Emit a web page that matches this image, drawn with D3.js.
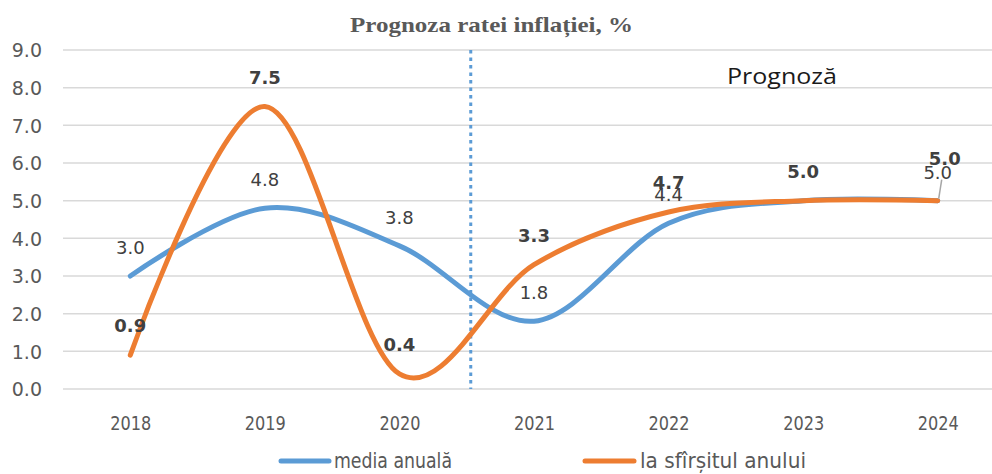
<!DOCTYPE html>
<html>
<head>
<meta charset="utf-8">
<script src="https://cdn.jsdelivr.net/npm/d3@7/dist/d3.min.js"></script>
<style>
  html, body { margin: 0; padding: 0; background: #fff; }
  svg { display: block; }
</style>
</head>
<body>
<svg id="chart" width="992" height="474"></svg>
<script>
// ---- data ----
const years = ["2018", "2019", "2020", "2021", "2022", "2023", "2024"];
const mediaAnuala = [3.0, 4.8, 3.8, 1.8, 4.4, 5.0, 5.0];
const sfarsitulAnului = [0.9, 7.5, 0.4, 3.3, 4.7, 5.0, 5.0];
const yTicks = [0, 1, 2, 3, 4, 5, 6, 7, 8, 9];
const seriesNames = ["media anuală", "la sfîrșitul anului"];
const titleText = "Prognoza ratei inflației, %";
const forecastText = "Prognoză";
const forecastAfter = "2020";

// ---- layout ----
const W = 992, H = 474;
const svg = d3.select("#chart");
const x = d3.scalePoint().domain(years).range([63, 1005]).padding(0.5);
const y = d3.scaleLinear().domain([0, 9]).range([389, 50]);
const blue = "#5B9BD5", orange = "#ED7D31";

// gridlines
svg.append("g").selectAll("line").data(yTicks).join("line")
  .attr("x1", 63).attr("x2", W)
  .attr("y1", d => y(d)).attr("y2", d => y(d))
  .attr("stroke", "#d9d9d9").attr("stroke-width", 1.5);

// y axis labels
const yAxis = d3.axisLeft(y).tickValues(yTicks).tickFormat(d3.format(".1f")).tickSize(0).tickPadding(0);
const gy = svg.append("g").attr("transform", "translate(42,0)").call(yAxis);
gy.select(".domain").remove();
gy.selectAll("text").attr("font-family", "DejaVu Sans, sans-serif").attr("font-size", 19)
  .attr("fill", "#595959").attr("dy", "0.36em");

// x axis labels
const xAxis = d3.axisBottom(x).tickSize(0).tickPadding(0);
const gx = svg.append("g").attr("transform", "translate(0,416)").call(xAxis);
gx.select(".domain").remove();
gx.selectAll("text").attr("font-family", "Liberation Sans Narrow, DejaVu Sans Condensed, Liberation Sans, sans-serif")
  .attr("font-size", 20).attr("fill", "#595959").attr("dy", "0.72em")
  .attr("textLength", 41).attr("lengthAdjust", "spacingAndGlyphs");

// forecast divider
const step = x.step();
const divX = x(forecastAfter) + step * 0.53;
svg.append("line").attr("x1", divX).attr("x2", divX).attr("y1", y(9)).attr("y2", y(0))
  .attr("stroke", blue).attr("stroke-width", 3).attr("stroke-dasharray", "3.5,4");

// lines
const line = d3.line().x((d, i) => x(years[i])).y(d => y(d)).curve(d3.curveCatmullRom.alpha(0));
svg.append("path").datum(mediaAnuala).attr("d", line).attr("fill", "none")
  .attr("stroke", blue).attr("stroke-width", 5).attr("stroke-linecap", "round");
svg.append("path").datum(sfarsitulAnului).attr("d", line).attr("fill", "none")
  .attr("stroke", orange).attr("stroke-width", 5).attr("stroke-linecap", "round");

// data labels
const fmt = d3.format(".1f");
const lastIdx = years.length - 1;
// blue labels (the 2023 one is covered by the orange label)
svg.append("g").selectAll("text").data(mediaAnuala.map((v, i) => ({ v, i })).filter(d => d.i !== 5)).join("text")
  .attr("x", d => x(years[d.i])).attr("y", d => y(d.v) - 22)
  .attr("text-anchor", "middle").attr("font-family", "DejaVu Sans, sans-serif").attr("font-size", 18)
  .attr("fill", "#404040").text(d => fmt(d.v));

// leader line for the last orange label
const lx = x(years[lastIdx]), ly = y(sfarsitulAnului[lastIdx]);
svg.append("line").attr("x1", lx + 1).attr("y1", ly - 2).attr("x2", lx + 4).attr("y2", ly - 21)
  .attr("stroke", "#a6a6a6").attr("stroke-width", 1.5);

svg.append("g").selectAll("text").data(sfarsitulAnului.map((v, i) => ({ v, i }))).join("text")
  .attr("x", d => x(years[d.i]) + (d.i === lastIdx ? 7 : 0))
  .attr("y", d => y(d.v) - 23 - (d.i === lastIdx ? 13 : 0))
  .attr("text-anchor", "middle").attr("font-family", "DejaVu Sans, sans-serif").attr("font-weight", "bold")
  .attr("font-size", 18).attr("fill", "#404040").text(d => fmt(d.v));

// title
svg.append("text").attr("x", 491.5).attr("y", 32).attr("text-anchor", "middle")
  .attr("font-family", "Liberation Serif, DejaVu Serif, serif").attr("font-weight", "bold")
  .attr("font-size", 21).attr("fill", "#595959")
  .attr("textLength", 283).attr("lengthAdjust", "spacingAndGlyphs").text(titleText);

// forecast label
svg.append("text").attr("x", 727).attr("y", 84)
  .attr("font-family", "Open Sans, sans-serif").attr("font-size", 22.5).attr("fill", "#1a1a1a")
  .attr("textLength", 110).attr("lengthAdjust", "spacingAndGlyphs").text(forecastText);

// legend
const legend = [
  { name: seriesNames[0], color: blue, x1: 281, x2: 329, tx: 334, tl: 118 },
  { name: seriesNames[1], color: orange, x1: 585, x2: 634, tx: 640, tl: 166 }
];
const lg = svg.append("g");
legend.forEach(l => {
  lg.append("line").attr("x1", l.x1).attr("x2", l.x2).attr("y1", 461).attr("y2", 461)
    .attr("stroke", l.color).attr("stroke-width", 5).attr("stroke-linecap", "round");
  lg.append("text").attr("x", l.tx).attr("y", 468)
    .attr("font-family", "Liberation Sans Narrow, DejaVu Sans Condensed, Liberation Sans, sans-serif")
    .attr("font-size", 21).attr("fill", "#595959")
    .attr("textLength", l.tl).attr("lengthAdjust", "spacingAndGlyphs").text(l.name);
});
</script>
</body>
</html>
